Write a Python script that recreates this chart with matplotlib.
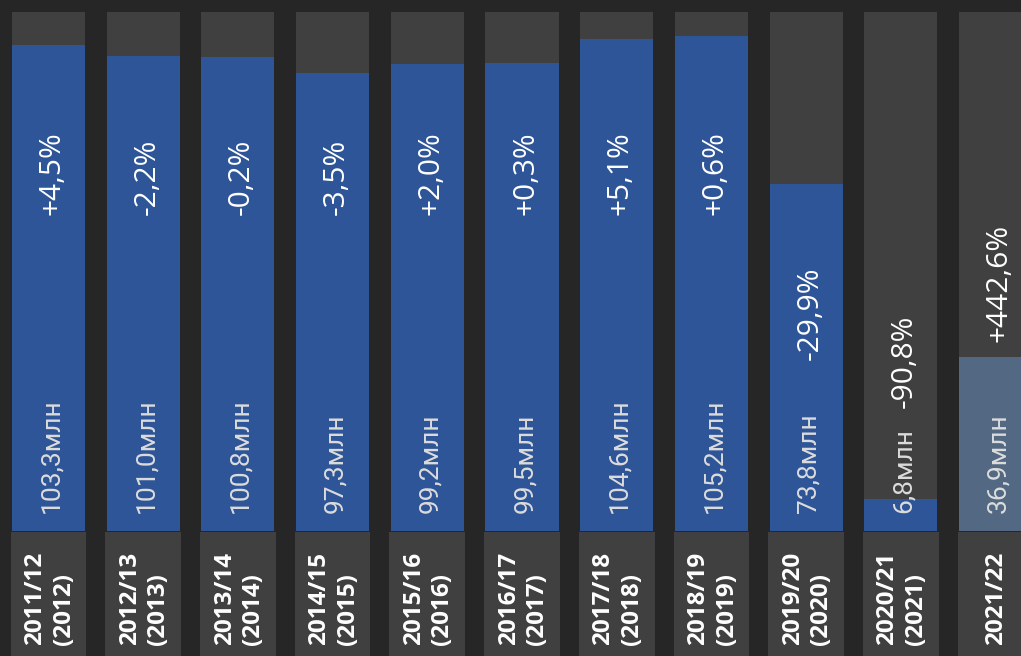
import matplotlib
matplotlib.use("Agg")
import matplotlib.pyplot as plt
from matplotlib.patches import Rectangle

seasons = ["2011/12\n(2012)", "2012/13\n(2013)", "2013/14\n(2014)", "2014/15\n(2015)",
           "2015/16\n(2016)", "2016/17\n(2017)", "2017/18\n(2018)", "2018/19\n(2019)",
           "2019/20\n(2020)", "2020/21\n(2021)", "2021/22"]
values = [103.3, 101.0, 100.8, 97.3, 99.2, 99.5, 104.6, 105.2, 73.8, 6.8, 36.9]
value_labels = ["103,3млн", "101,0млн", "100,8млн", "97,3млн", "99,2млн", "99,5млн",
                "104,6млн", "105,2млн", "73,8млн", "6,8млн", "36,9млн"]
changes = ["+4,5%", "-2,2%", "-0,2%", "-3,5%", "+2,0%", "+0,3%",
           "+5,1%", "+0,6%", "-29,9%", "-90,8%", "+442,6%"]

# layout only (data units of the y axis)
full_height = 110.3
pct_y = [67.2] * 8 + [36.3, 26.1, 40.2]
value_y = 3.8

BG = "#262626"
GREY = "#404040"
BLUE = "#2E5597"
BLUE_LIGHT = "#536882"

fig = plt.figure(figsize=(10.21, 6.56), dpi=100, facecolor=BG)
ax = fig.add_axes([0, 0, 1, 1])
ax.set_facecolor(BG)
ax.set_xlim(-0.512, 10.269)
ax.set_ylim(-26.57, 112.86)
ax.axis("off")

x = list(range(len(values)))
colors = [BLUE] * (len(values) - 1) + [BLUE_LIGHT]

ax.bar(x, [full_height] * len(x), width=0.771, color=GREY, linewidth=0)
ax.bar(x, values, width=0.771, color=colors, linewidth=0)

for i in x:
    ax.add_patch(Rectangle((i - 0.40, -27), 0.80, 26.8, color=GREY, linewidth=0))
    ax.text(i + 0.03, value_y, value_labels[i], rotation=90, ha="center", va="bottom",
            color="#DCDCDC", fontsize=19, family="Roboto")
    ax.text(i + 0.04, pct_y[i], changes[i], rotation=90, ha="center", va="bottom",
            color="white", fontsize=21.5, family="Open Sans")
    ax.text(i + 0.01, -24.2, seasons[i], rotation=90, ha="center", va="bottom",
            multialignment="left", color="white", fontsize=17.5, family="Open Sans",
            fontweight="bold", linespacing=1.25)

fig.savefig("out.png", dpi=100, facecolor=BG)
